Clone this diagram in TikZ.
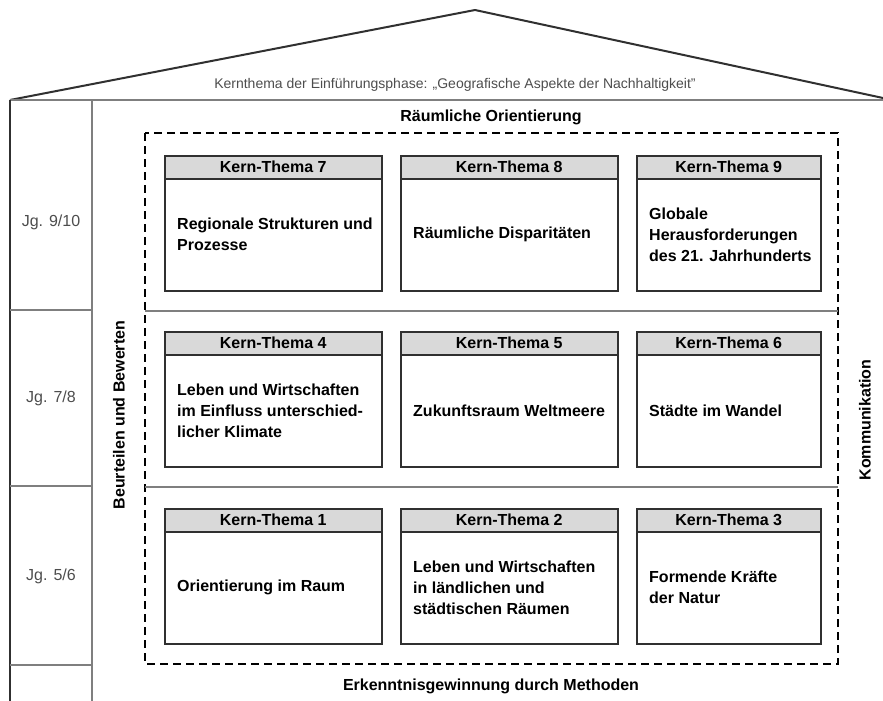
\documentclass[tikz,border=0pt]{standalone}
\usepackage{fontspec}
\setmainfont{Liberation Sans}
\usepackage{tikz}
\usetikzlibrary{positioning}

\definecolor{headgray}{HTML}{D9D9D9}
\definecolor{linegray}{HTML}{7F7F7F}
\definecolor{textgray}{HTML}{4D4D4D}
\definecolor{boxline}{HTML}{303030}

\tikzset{
  kthead/.style={draw=boxline, line width=1.5pt, fill=headgray, minimum height=23pt,
    inner sep=0pt, font=\bfseries\fontsize{16}{19}\selectfont},
  ktbody/.style={draw=boxline, line width=1.5pt, minimum height=112pt, inner sep=0pt},
  kttext/.style={anchor=west, inner xsep=13pt, inner ysep=0pt, align=left,
    font=\bfseries\fontsize{16}{21}\selectfont},
  jglabel/.style={text=textgray, font=\fontsize{16}{19}\selectfont},
  pillar/.style={font=\bfseries\fontsize{16}{19}\selectfont}
}

\begin{document}
\begin{tikzpicture}[x=1pt,y=-1pt]
    \useasboundingbox (0,0) rectangle (883,701);
    \def\W{10}   % left wall
    \def\C{92}   % column divider
    \def\E{100}  % eaves line
    \def\B{701}  % bottom

    % roof
    \coordinate (eaveL) at (\W,\E);
    \coordinate (apex) at (475,10);
    \coordinate (eaveR) at (883,98);
    \draw[boxline,line width=2pt,line join=round] (eaveL) -- (apex) -- (eaveR);
    \draw[linegray,line width=1.5pt] (eaveL) -- (883,\E);
    \node[text=textgray,font=\fontsize{14}{16}\selectfont] (einf) at (455,85)
        {Kernthema der Einführungsphase: „Geografische Aspekte der Nachhaltigkeit"};

    % walls
    \draw[boxline,line width=2.2pt] (eaveL) -- (\W,\B);
    \draw[linegray,line width=1.5pt] (\C,\E) -- (\C,\B);
    \foreach \y in {310,486,665} {
        \draw[linegray,line width=1.5pt] (\W,\y) -- (\C,\y);
    }
    \node[jglabel] (jg910) at (51,222) {Jg. 9/10};
    \node[jglabel] (jg78)  at (51,398) {Jg. 7/8};
    \node[jglabel] (jg56)  at (51,576) {Jg. 5/6};

    % dashed frame and row lines
    \draw[black,line width=1.8pt,dash pattern=on 8pt off 5pt] (145,133) rectangle (838,664);
    \foreach \y in {311,487} {
        \draw[linegray,line width=1.5pt] (145,\y) -- (838,\y);
    }

    \node[pillar] (raum) at (491,117) {Räumliche Orientierung};
    \node[pillar] (meth) at (491,686) {Erkenntnisgewinnung durch Methoden};
    \node[pillar,rotate=90] (beurt) at (119,415) {Beurteilen und Bewerten};
    \node[pillar,rotate=90] (komm) at (865,420) {Kommunikation};

    % Kern-Themen
    \foreach \n/\x/\y/\w/\t in {
        7/164/155/217/{Regionale Strukturen und\\Prozesse},
        8/400/155/217/{Räumliche Disparitäten},
        9/636/155/184/{Globale\\Herausforderungen\\des 21. Jahrhunderts},
        4/164/331/217/{Leben und Wirtschaften\\im Einfluss unterschied-\\licher Klimate},
        5/400/331/217/{Zukunftsraum Weltmeere},
        6/636/331/184/{Städte im Wandel},
        1/164/508/217/{Orientierung im Raum},
        2/400/508/217/{Leben und Wirtschaften\\in ländlichen und\\städtischen Räumen},
        3/636/508/184/{Formende Kräfte\\der Natur}} {
        \node[ktbody,minimum width=\w pt,anchor=north west,
              label={[kttext]west:{\t}}] (body\n) at (\x,\y+23) {};
        \node[kthead,minimum width=\w pt,above=-1.5pt of body\n] (head\n) {Kern-Thema \n};
    }
\end{tikzpicture}
\end{document}
